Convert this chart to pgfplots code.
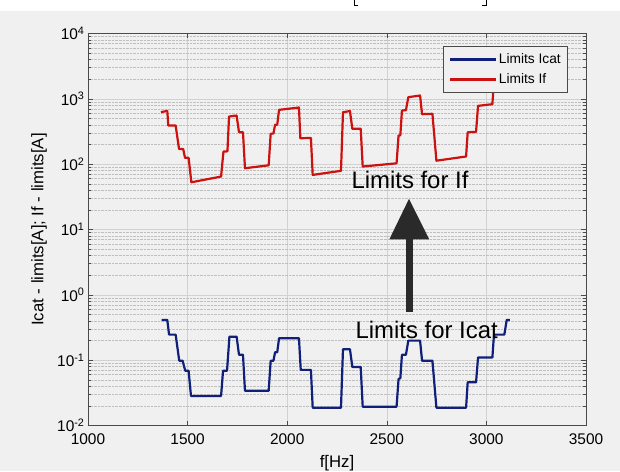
\documentclass[border=0pt]{standalone}
\usepackage{fontspec}
\setmainfont{Liberation Sans}
\usepackage{pgfplots}
\pgfplotsset{compat=1.18}

\definecolor{figbg}{HTML}{F0F0F0}
\definecolor{icat}{HTML}{0F1F7A}
\definecolor{ifc}{HTML}{CC1111}
\definecolor{axgray}{HTML}{4A4A4A}
\definecolor{arrowc}{HTML}{2A2A2A}

\begin{document}
\begin{tikzpicture}[x=1bp,y=1bp]
\fill[figbg] (-88,-46) rectangle (532,425);
\fill[white] (-88,414) rectangle (532,425);
\draw[line width=1bp] (266,425) -- (266,420) -- (270,420);
\draw[line width=1bp] (398,425) -- (398,420) -- (394,420);
\useasboundingbox (-88,-46) rectangle (532,425);
\begin{axis}[
    scale only axis,
    width=498bp, height=392bp,
    xmin=1000, xmax=3500,
    ymode=log, ymin=1e-2, ymax=1e4,
    xtick={1000,1500,2000,2500,3000,3500},
    xticklabels={1000,1500,2000,2500,3000,3500},
    ytick={1e-2,1e-1,1,10,100,1000,10000},
    yticklabels={10\textsuperscript{-2},10\textsuperscript{-1},10\textsuperscript{0},10\textsuperscript{1},10\textsuperscript{2},10\textsuperscript{3},10\textsuperscript{4}},
    minor ytick={0.02,0.03,0.04,0.05,0.06,0.07,0.08,0.09,
                 0.2,0.3,0.4,0.5,0.6,0.7,0.8,0.9,
                 2,3,4,5,6,7,8,9,
                 20,30,40,50,60,70,80,90,
                 200,300,400,500,600,700,800,900,
                 2000,3000,4000,5000,6000,7000,8000,9000},
    scaled x ticks=false,
    tick align=inside,
    major tick length=5bp, minor tick length=3bp,
    tick style={axgray, line width=0.6bp},
    axis line style={axgray, line width=0.7bp},
    xmajorgrids, ymajorgrids, yminorgrids,
    major grid style={black!18, line width=0.5bp},
    minor grid style={black!25, densely dotted, line width=0.4bp},
    ticklabel style={font=\fontsize{15.5}{18}\selectfont},
    xticklabel style={yshift=-5bp},
    xlabel={f[Hz]},
    ylabel={Icat - limits[A]; If - limits[A]},
    label style={font=\fontsize{16.8}{20}\selectfont},
    x label style={at={(axis description cs:0.5,-0.1065)}, anchor=base},
    y label style={at={(axis description cs:-0.0984,0.5)}, anchor=center},
    legend style={at={(0.964,0.967)}, anchor=north east, draw=axgray, fill=figbg,
        font=\fontsize{13.8}{16}\selectfont, line width=0.7bp,
        inner xsep=5bp, inner ysep=5bp, row sep=4.5bp},
    legend cell align=left,
    legend image code/.code={\draw[#1] (0bp,0bp) -- (46bp,0bp);},
]
\addplot[icat, line width=2.2bp, line join=round] coordinates {
(1370,0.413) (1398,0.413) (1407,0.246) (1440,0.246) (1458,0.098) (1475,0.098)
(1488,0.069) (1505,0.069) (1517,0.0283) (1668,0.0283) (1678,0.069) (1698,0.069)
(1710,0.229) (1746,0.229) (1758,0.121) (1778,0.121) (1788,0.034) (1907,0.034)
(1917,0.098) (1931,0.098) (1939,0.132) (1950,0.132) (1959,0.216) (2059,0.216)
(2068,0.071) (2119,0.071) (2128,0.0187) (2270,0.0187) (2280,0.147) (2315,0.147)
(2327,0.0787) (2369,0.0787) (2379,0.0194) (2549,0.0194) (2559,0.0515) (2568,0.053)
(2576,0.121) (2596,0.121) (2608,0.199) (2667,0.199) (2677,0.098) (2729,0.098)
(2749,0.0187) (2898,0.0187) (2906,0.0458) (2948,0.0458) (2958,0.110) (3030,0.110)
(3038,0.246) (3090,0.246) (3102,0.413) (3118,0.413)
};
\addlegendentry{Limits Icat}
\addplot[ifc, line width=2.2bp, line join=round] coordinates {
(1366,624) (1398,655) (1403,390) (1440,390) (1457,171) (1478,170) (1487,125)
(1505,125) (1519,52.8) (1668,64.6) (1680,156) (1700,157) (1708,536) (1746,555)
(1758,308) (1778,308) (1788,86.7) (1907,96) (1917,291) (1931,295) (1939,400)
(1950,402) (1959,678) (2059,736) (2066,249) (2119,252) (2128,68.5) (2270,79)
(2280,624) (2315,650) (2327,347) (2369,350) (2379,92) (2549,103) (2559,274)
(2568,277) (2576,662) (2596,670) (2608,1059) (2667,1124) (2677,582) (2729,590)
(2749,113) (2898,131) (2906,308) (2948,312) (2958,780) (3030,828) (3038,1870)
(3090,1950) (3102,3300) (3118,3330)
};
\addlegendentry{Limits If}
\end{axis}
\node[font=\fontsize{24}{28}\selectfont, anchor=base, inner sep=0pt] at (322,237) {Limits for If};
\node[font=\fontsize{24}{28}\selectfont, anchor=base, inner sep=0pt] at (338.7,86.7) {Limits for Icat};
\fill[arrowc] (317.7,113.3) rectangle (324.7,187);
\fill[arrowc] (301.3,186) -- (341.3,186) -- (321,226.7) -- cycle;
\end{tikzpicture}
\end{document}
